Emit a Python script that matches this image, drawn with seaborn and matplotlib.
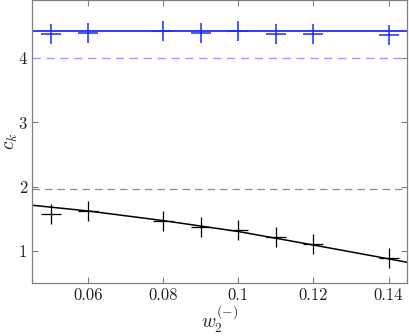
import matplotlib
matplotlib.use("Agg")
import matplotlib.pyplot as plt
import pandas as pd
import seaborn as sns

# measured points
w2 = [0.05, 0.06, 0.08, 0.09, 0.10, 0.11, 0.12, 0.14]
c_upper = [4.38, 4.39, 4.43, 4.385, 4.43, 4.375, 4.37, 4.36]
c_lower = [1.57, 1.62, 1.46, 1.37, 1.32, 1.22, 1.11, 0.885]

# model curve for the lower branch
curve_w2 = [0.045, 0.06, 0.08, 0.10, 0.12, 0.14, 0.145]
curve_c = [1.71, 1.62, 1.47, 1.30, 1.09, 0.875, 0.82]

# reference levels
upper_level = 4.43
upper_bound = 4.0
lower_bound = 1.96

sns.set_style("ticks")
plt.rcParams["font.family"] = "serif"
plt.rcParams["font.serif"] = ["cmr10", "DejaVu Serif"]
plt.rcParams["mathtext.fontset"] = "cm"
plt.rcParams["axes.formatter.use_mathtext"] = True

df_pts = pd.DataFrame({"w2": w2, "upper": c_upper, "lower": c_lower})
df_curve = pd.DataFrame({"w2": curve_w2, "c": curve_c})

fig, ax = plt.subplots(figsize=(4.09, 3.36), dpi=100)

ax.axhline(upper_level, color="#0000ff", lw=1.1, zorder=2)
ax.axhline(upper_bound, color="#9c9cff", lw=1.0, ls=(0, (6, 4)), zorder=1)
ax.axhline(lower_bound, color="#8a8a8a", lw=0.9, ls=(0, (6, 4)), zorder=1)

sns.lineplot(data=df_curve, x="w2", y="c", ax=ax, color="black", lw=1.1)
sns.scatterplot(data=df_pts, x="w2", y="upper", ax=ax, marker="+", s=200,
                color="#1a2cff", linewidth=1.1, zorder=3)
sns.scatterplot(data=df_pts, x="w2", y="lower", ax=ax, marker="+", s=200,
                color="black", linewidth=0.9, zorder=3)

ax.set_xlim(0.045, 0.145)
ax.set_ylim(0.5, 4.9)
ax.set_xticks([0.06, 0.08, 0.1, 0.12, 0.14])
ax.set_xticklabels(["0.06", "0.08", "0.1", "0.12", "0.14"])
ax.set_yticks([1, 2, 3, 4])
ax.set_yticklabels(["1", "2", "3", "4"])
ax.tick_params(direction="in", length=4, width=0.8, color="#808080",
               labelsize=12, top=True, right=True, labelcolor="#222222")
for s in ax.spines.values():
    s.set_color("#808080")
    s.set_linewidth(0.9)
    s.set_visible(True)

ax.set_xlabel(r"$w_2^{(-)}$", fontsize=14, labelpad=0)
ax.set_ylabel(r"$c_k$", fontsize=14)
ax.yaxis.set_label_coords(-0.032, 0.5)

fig.subplots_adjust(left=0.078, right=0.996, top=0.999, bottom=0.158)
fig.savefig("out.png", dpi=100)
